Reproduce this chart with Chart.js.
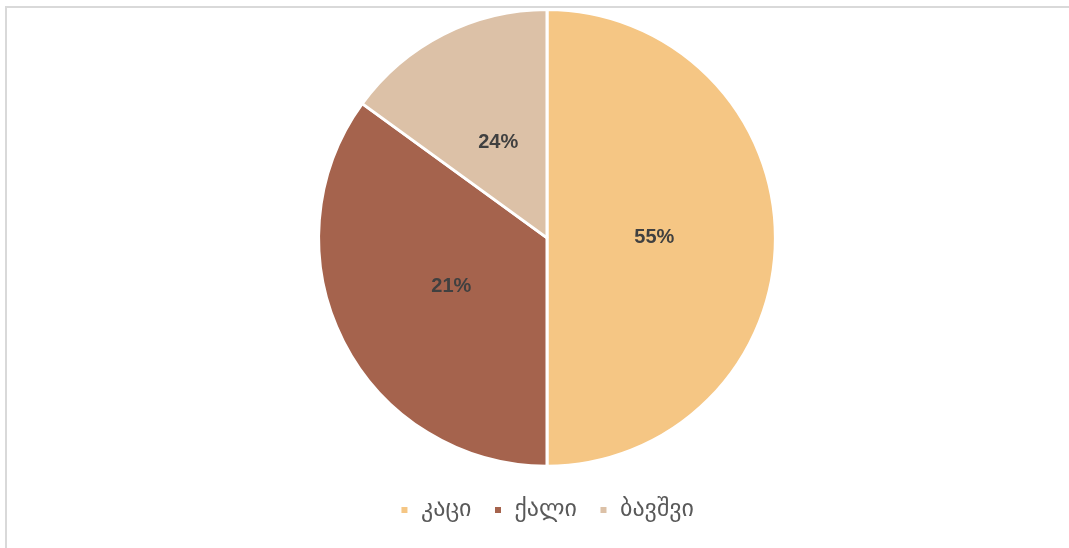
<!DOCTYPE html>
<html>
<head>
<meta charset="utf-8">
<script src="https://cdn.jsdelivr.net/npm/chart.js@4/dist/chart.umd.min.js"></script>
<style>
  html, body { margin: 0; padding: 0; background: #fff; overflow: hidden; }
  #frame { position: absolute; left: 5px; top: 6px; width: 1064px; height: 542px;
           border-top: 2px solid #d9d9d9; border-left: 2px solid #d9d9d9; box-sizing: border-box; }
  #wrap { position: absolute; left: 0; top: 0; width: 1069px; height: 548px; }
</style>
</head>
<body>
<div id="frame"></div>
<div id="wrap"><canvas id="c"></canvas></div>
<script>
// Categories (Georgian: man, woman, child)
const categories = ['კაცი', 'ქალი', 'ბავშვი'];
// Slice sizes as drawn in the picture (share of the circle, %)
const sliceValues = [50, 35, 15];
// Data label texts as printed on the slices
const labelTexts = ['55%', '21%', '24%'];
const sliceColors = ['#F5C684', '#A5634D', '#DCC1A7'];

const sliceLabels = {
  id: 'sliceLabels',
  afterDatasetsDraw(chart) {
    const ctx = chart.ctx;
    const meta = chart.getDatasetMeta(0);
    ctx.save();
    ctx.font = 'bold 20px "Liberation Sans", Arial, sans-serif';
    ctx.fillStyle = '#404040';
    ctx.textAlign = 'center';
    ctx.textBaseline = 'middle';
    meta.data.forEach((arc, i) => {
      const p = arc.getProps(['x', 'y', 'startAngle', 'endAngle', 'outerRadius'], true);
      const mid = (p.startAngle + p.endAngle) / 2;
      const r = p.outerRadius * 0.47;
      ctx.fillText(labelTexts[i], p.x + Math.cos(mid) * r, p.y + Math.sin(mid) * r);
    });
    ctx.restore();
  }
};

new Chart(document.getElementById('c'), {
  type: 'pie',
  data: {
    labels: categories,
    datasets: [{
      data: sliceValues,
      backgroundColor: sliceColors,
      borderColor: '#ffffff',
      borderWidth: 3
    }]
  },
  options: {
    responsive: true,
    maintainAspectRatio: false,
    animation: false,
    layout: { padding: { left: 25, top: 8, right: 0, bottom: 16 } },
    plugins: {
      tooltip: { enabled: false },
      legend: {
        position: 'bottom',
        title: { display: true, text: ' ', font: { size: 1 }, padding: { top: 7, bottom: 0 } },
        labels: {
          boxWidth: 9,
          boxHeight: 9,
          padding: 22,
          color: '#595959',
          font: { size: 24, family: '"DejaVu Sans", sans-serif' }
        }
      }
    }
  },
  plugins: [sliceLabels]
});
</script>
</body>
</html>
